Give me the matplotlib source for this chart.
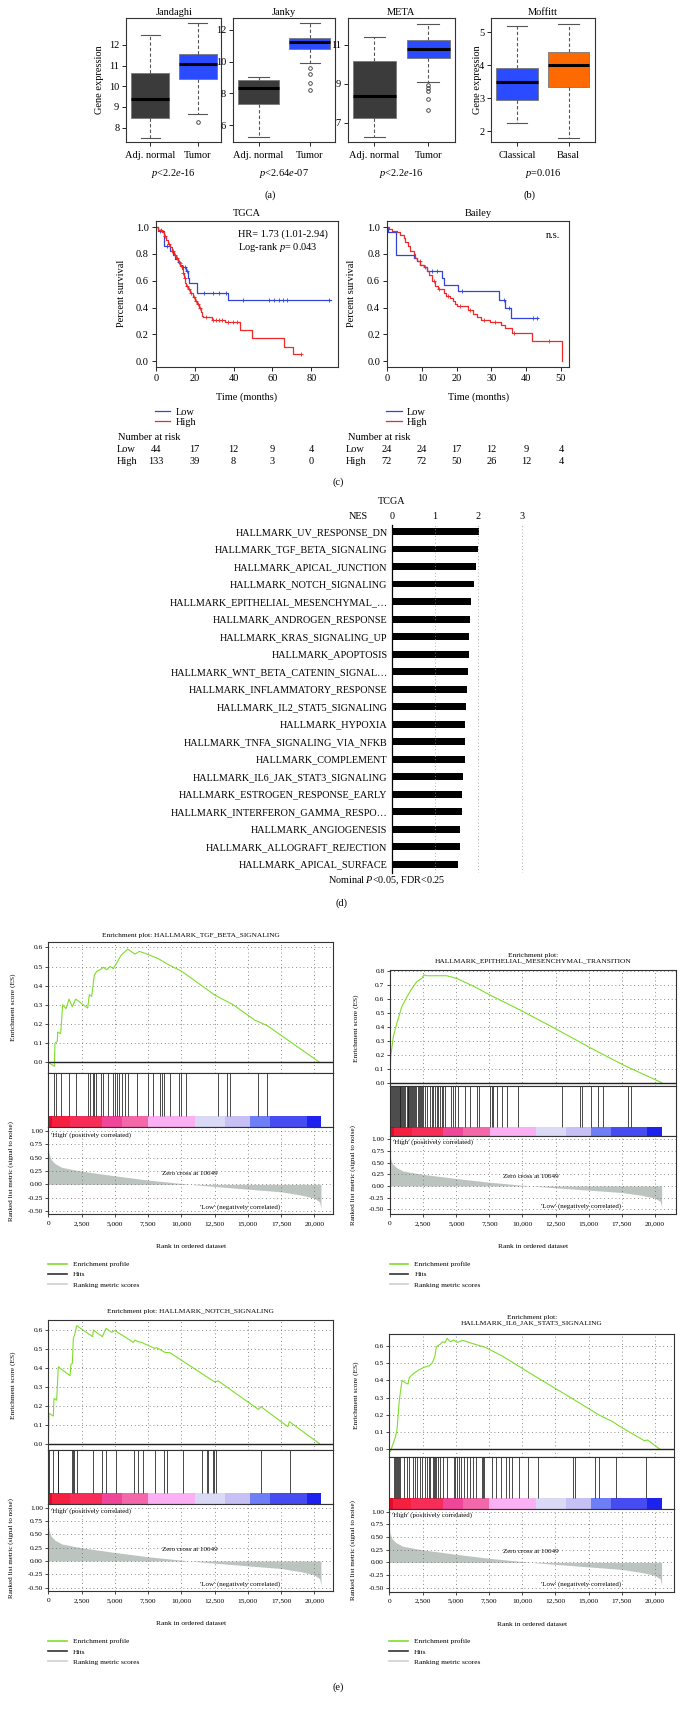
import numpy as np
import matplotlib.pyplot as plt
import matplotlib.transforms as mtransforms
from matplotlib.lines import Line2D

W, H = 683, 1710
plt.rcParams['font.family'] = ['Liberation Serif', 'DejaVu Serif']
plt.rcParams['mathtext.fontset'] = 'custom'
plt.rcParams['mathtext.rm'] = 'Liberation Serif'
plt.rcParams['mathtext.it'] = 'Liberation Serif:italic'

# ---------------- data: (a)/(b) box plots ----------------
box_datasets = ['Jandaghi', 'Janky', 'META', 'Moffitt']
box_groups = [['Adj. normal', 'Tumor'], ['Adj. normal', 'Tumor'],
              ['Adj. normal', 'Tumor'], ['Classical', 'Basal']]
box_pvals = ['$p$<2.2$e$-16', '$p$<2.64$e$-07', '$p$<2.2$e$-16', '$p$=0.016']
# whisker low, q1, median, q3, whisker high
box_stats = [
    [[7.52, 8.45, 9.39, 10.66, 12.48], [8.68, 10.34, 11.06, 11.55, 13.05]],
    [[5.24, 7.33, 8.36, 8.84, 9.05], [9.89, 10.80, 11.23, 11.50, 12.40]],
    [[6.24, 7.22, 8.36, 10.16, 11.39], [9.08, 10.31, 10.81, 11.27, 12.10]],
    [[2.25, 2.96, 3.50, 3.92, 5.21], [1.80, 3.35, 4.00, 4.41, 5.27]],
]
box_fliers = [[[], [8.27]], [[], [9.57, 9.22, 8.67, 8.21]],
              [[], [8.94, 8.77, 8.65, 8.22, 7.66]], [[], []]]
box_colors = [['#3b3b3b', '#2a4bff'], ['#3b3b3b', '#2a4bff'],
              ['#3b3b3b', '#2a4bff'], ['#2a4bff', '#ff6a00']]
box_ylims = [(7.32, 13.29), (4.97, 12.71), (6.02, 12.37), (1.68, 5.43)]
box_yticks = [[8, 9, 10, 11, 12], [6, 8, 10, 12], [7, 9, 11], [2, 3, 4, 5]]

# ---------------- data: (c) Kaplan-Meier ----------------
tcga_low_t = [0, 1.4, 4.5, 7.4, 9.1, 10.0, 11.3, 12.5, 13.4, 15.5, 16.5, 17.2, 21.1, 37.4, 90]
tcga_low_s = [1.0, 0.97, 0.86, 0.82, 0.79, 0.76, 0.74, 0.72, 0.70, 0.67, 0.62, 0.58, 0.51, 0.46, 0.46]
tcga_low_cens = [2, 6, 9, 12, 14, 15, 16, 24.9, 29.4, 32.7, 36, 44.9, 58.2, 61, 63.3, 65.5, 67.5, 89.2]
tcga_high_t = [0, 1.4, 3.1, 4.5, 5.2, 6.5, 7.4, 8.2, 9.4, 10.3, 11.3, 12.0, 12.7, 13.4, 13.9, 14.6,
               15.1, 15.6, 16.5, 17.7, 19.4, 20.3, 21.1, 22.3, 23.3, 24.0, 24.5, 28.8, 35.7, 43.5,
               49.4, 66.0, 70.4, 74.8]
tcga_high_s = [1.0, 0.98, 0.96, 0.93, 0.90, 0.87, 0.85, 0.82, 0.79, 0.77, 0.75, 0.73, 0.71, 0.69,
               0.66, 0.62, 0.58, 0.56, 0.54, 0.51, 0.48, 0.45, 0.43, 0.40, 0.37, 0.34, 0.33, 0.31,
               0.29, 0.23, 0.17, 0.11, 0.055, 0.055]
tcga_high_cens = [2.5, 5, 7, 8.5, 10, 11, 12.5, 14, 15, 16, 17, 18, 19.5, 20.5, 21.5, 23, 26, 29.5,
                  31, 32.5, 34, 37, 39.5, 42, 74.8]
bailey_low_t = [0, 0.2, 2.7, 7.7, 8.6, 9.6, 10.5, 11.5, 15.8, 16.3, 20.4, 32.1, 33.9, 35.5, 43.4]
bailey_low_s = [1.0, 0.96, 0.79, 0.77, 0.75, 0.72, 0.70, 0.67, 0.62, 0.57, 0.525, 0.46, 0.40, 0.32, 0.32]
bailey_low_cens = [13, 14.5, 21.5, 33.5, 35, 42, 43]
bailey_high_t = [0, 0.5, 1.5, 2.9, 3.8, 4.8, 5.3, 6.0, 6.7, 7.7, 8.1, 8.6, 9.6, 10.5, 11.5, 12.2,
                 12.9, 13.9, 14.6, 16.4, 17.0, 18.0, 19.0, 19.6, 20.2, 23.3, 24.6, 25.8, 27.1, 29.6,
                 32.7, 33.9, 35.9, 41.7, 50.2]
bailey_high_s = [1.0, 0.985, 0.97, 0.96, 0.94, 0.92, 0.89, 0.86, 0.82, 0.80, 0.77, 0.75, 0.72, 0.70,
                 0.67, 0.64, 0.60, 0.56, 0.54, 0.51, 0.49, 0.47, 0.45, 0.43, 0.41, 0.38, 0.355, 0.33,
                 0.31, 0.29, 0.27, 0.25, 0.21, 0.155, 0.0]
bailey_high_cens = [9.5, 11, 13.5, 15, 17.5, 21, 24, 28, 31, 36.5, 46.5]
tcga_risk_t = [0, 20, 40, 60, 80]
tcga_risk_low = [44, 17, 12, 9, 4]
tcga_risk_high = [133, 39, 8, 3, 0]
bailey_risk_t = [0, 10, 20, 30, 40, 50]
bailey_risk_low = [24, 24, 17, 12, 9, 4]
bailey_risk_high = [72, 72, 50, 26, 12, 4]

# ---------------- data: (d) NES bars ----------------
nes_terms = ['HALLMARK_UV_RESPONSE_DN', 'HALLMARK_TGF_BETA_SIGNALING', 'HALLMARK_APICAL_JUNCTION',
             'HALLMARK_NOTCH_SIGNALING', 'HALLMARK_EPITHELIAL_MESENCHYMAL_\u2026',
             'HALLMARK_ANDROGEN_RESPONSE', 'HALLMARK_KRAS_SIGNALING_UP', 'HALLMARK_APOPTOSIS',
             'HALLMARK_WNT_BETA_CATENIN_SIGNAL\u2026', 'HALLMARK_INFLAMMATORY_RESPONSE',
             'HALLMARK_IL2_STAT5_SIGNALING', 'HALLMARK_HYPOXIA', 'HALLMARK_TNFA_SIGNALING_VIA_NFKB',
             'HALLMARK_COMPLEMENT', 'HALLMARK_IL6_JAK_STAT3_SIGNALING',
             'HALLMARK_ESTROGEN_RESPONSE_EARLY', 'HALLMARK_INTERFERON_GAMMA_RESPO\u2026',
             'HALLMARK_ANGIOGENESIS', 'HALLMARK_ALLOGRAFT_REJECTION', 'HALLMARK_APICAL_SURFACE']
nes_values = [2.02, 2.00, 1.94, 1.89, 1.82, 1.81, 1.78, 1.78, 1.77, 1.74, 1.72, 1.70, 1.69,
              1.69, 1.64, 1.62, 1.62, 1.58, 1.57, 1.52]

# ---------------- data: (e) GSEA ----------------
tgf_es_rank = [0, 453, 503, 679, 704, 930, 1080, 1331, 1556, 1807, 2058, 2960, 3085, 3261, 3461,
               3637, 3887, 4138, 4389, 4639, 4890, 5140, 5466, 5968, 6519, 6845, 7271, 8274, 9026,
               10029, 12536, 13915, 15545, 16423, 20400]
tgf_es = [0.0, -0.021, 0.10, 0.11, 0.158, 0.15, 0.30, 0.28, 0.33, 0.29, 0.33, 0.283, 0.353, 0.344,
          0.454, 0.475, 0.483, 0.496, 0.483, 0.50, 0.489, 0.518, 0.558, 0.591, 0.565, 0.579, 0.569,
          0.541, 0.51, 0.475, 0.35, 0.30, 0.219, 0.193, 0.0]
tgf_hits = [453, 579, 930, 1556, 2058, 2960, 3135, 3386, 3461, 3562, 3962, 4138, 4464, 4890, 5015,
            5140, 5316, 5567, 5767, 5968, 6644, 7521, 7897, 8399, 8574, 8724, 9151, 9852, 9977,
            10353, 12735, 13412, 13663, 15792, 16419]
emt_es_rank = [0, 50, 252, 503, 880, 1258, 1635, 2012, 2390, 2566, 2767, 4277, 5031, 6290, 7547,
               10063, 12579, 15094, 17610, 20503]
emt_es = [0.0, 0.186, 0.33, 0.42, 0.54, 0.61, 0.67, 0.72, 0.745, 0.77, 0.764, 0.764, 0.745, 0.69,
          0.626, 0.507, 0.381, 0.25, 0.126, 0.0]
emt_hits = [20, 90, 160, 230, 300, 370, 440, 510, 580, 650, 720, 790, 860, 930, 1000, 1070, 1140,
            1258, 1330, 1384, 1460, 1509, 1600, 1680, 1760, 1840, 1920, 2000, 2080, 2160, 2240,
            2320, 2390, 2516, 2641, 2767, 3019, 3145, 3270, 3396, 3522, 3648, 3773, 3899, 4025,
            4151, 4603, 4729, 4905, 5157, 5660, 6038, 6541, 6692, 7547, 7673, 7799, 8050, 8428,
            8805, 9686, 12956, 14340, 14516, 15145, 15723, 16101, 17988, 18164]
notch_es_rank = [0, 50, 378, 428, 629, 754, 1632, 1707, 1807, 1883, 2008, 2133, 3336, 3386, 4063,
                 4339, 4765, 5015, 6394, 6519, 6770, 7020, 7271, 8023, 8148, 8775, 9151, 12486,
                 12786, 15795, 15996, 18002, 18128, 20384]
notch_es = [0.0, 0.16, 0.146, 0.239, 0.23, 0.406, 0.359, 0.419, 0.424, 0.556, 0.582, 0.623, 0.565,
            0.60, 0.565, 0.609, 0.588, 0.597, 0.535, 0.547, 0.538, 0.535, 0.526, 0.503, 0.507,
            0.482, 0.48, 0.327, 0.331, 0.181, 0.195, 0.09, 0.116, 0.0]
notch_hits = [50, 378, 704, 754, 1807, 1883, 1933, 2184, 3386, 4063, 4314, 5065, 6469, 6770, 7146,
              8023, 8724, 8900, 10153, 11531, 11907, 12033, 12409, 12485, 12585, 15995, 18176]
il6_es_rank = [0, 75, 252, 453, 578, 755, 956, 1208, 1409, 1510, 1837, 2214, 2591, 2969, 3220,
               3421, 3547, 3849, 4025, 4176, 4352, 4604, 4856, 5107, 5535, 6239, 7245, 8503,
               11019, 13535, 15799, 16806, 17309, 19196, 19447, 20378]
il6_es = [-0.004, -0.014, 0.025, 0.07, 0.112, 0.286, 0.40, 0.387, 0.379, 0.418, 0.441, 0.461,
          0.476, 0.484, 0.50, 0.538, 0.596, 0.612, 0.625, 0.62, 0.644, 0.625, 0.635, 0.621, 0.633,
          0.615, 0.592, 0.542, 0.422, 0.306, 0.199, 0.161, 0.135, 0.05, 0.054, 0.0]
il6_hits = [327, 402, 478, 553, 629, 704, 780, 1082, 1333, 1510, 1761, 1912, 2088, 2340, 2465,
            2667, 2843, 2969, 3094, 3270, 3346, 3421, 3497, 3673, 3849, 4025, 4352, 4855, 4981,
            5107, 5283, 5434, 5610, 5862, 6113, 6289, 6491, 6994, 7069, 7145, 7749, 8000, 8377,
            8805, 9006, 9258, 9761, 10466, 11220, 13837, 13988, 15497, 15799, 17057, 19321]
metric_rank = [0, 50, 200, 500, 1000, 2000, 3000, 5000, 7500, 10649, 12500, 15000, 17500, 19000,
               20000, 20400, 20500]
metric_vals = [0.70, 0.58, 0.47, 0.39, 0.32, 0.27, 0.23, 0.16, 0.08, 0.0, -0.04, -0.09, -0.14,
               -0.20, -0.26, -0.33, -0.45]
zero_cross = 10649
cbar_edges = [0, 300, 1630, 4015, 5520, 7520, 11030, 13290, 15165, 16670, 19420, 20500]
cbar_colors = ['#e10d28', '#f5203f', '#f72d58', '#f0469a', '#f468aa', '#fbb0f4', '#dadaf7',
               '#c6c0f4', '#6e7ef6', '#474cf2', '#1e22ef']
rank_ticks = [0, 2500, 5000, 7500, 10000, 12500, 15000, 17500, 20000]

fig = plt.figure(figsize=(W / 100, H / 100), dpi=100)


def px_axes(x0, y0, x1, y1):
    return fig.add_axes([x0 / W, 1 - y1 / H, (x1 - x0) / W, (y1 - y0) / H])


def px_text(x, y, s, **kw):
    kw.setdefault('ha', 'center')
    kw.setdefault('va', 'center')
    fig.text(x / W, 1 - y / H, s, **kw)


FS = 7.5
FG = 5.3

# ---------------- (a) and (b) ----------------
box_px = [(126.3, 221.3), (233.0, 335.4), (347.6, 455.1), (491.3, 594.5)]
for i, name in enumerate(box_datasets):
    ax = px_axes(box_px[i][0], 18.3, box_px[i][1], 141.7)
    stats = []
    for j in range(2):
        lo, q1, med, q3, hi = box_stats[i][j]
        stats.append(dict(whislo=lo, q1=q1, med=med, q3=q3, whishi=hi,
                          fliers=box_fliers[i][j], label=box_groups[i][j]))
    bp = ax.bxp(stats, positions=[1, 2], widths=0.8, patch_artist=True,
                whiskerprops=dict(linestyle=(0, (3, 2)), color='#555', lw=0.8),
                capprops=dict(color='#555', lw=0.8),
                medianprops=dict(color='black', lw=2.2),
                flierprops=dict(marker='o', markersize=2.6, mfc='none', mec='#333', mew=0.6),
                boxprops=dict(edgecolor='#777', lw=0.6))
    for patch, c in zip(bp['boxes'], box_colors[i]):
        patch.set_facecolor(c)
    ax.set_xlim(0.5, 2.5)
    ax.set_ylim(*box_ylims[i])
    ax.set_yticks(box_yticks[i])
    ax.tick_params(labelsize=FS, length=3, width=0.6, pad=2)
    ax.tick_params(axis='x', pad=4)
    for sp in ax.spines.values():
        sp.set_color('#333')
        sp.set_linewidth(0.8)
    ax.set_title(name, fontsize=FS, pad=2.5)
    cx = (box_px[i][0] + box_px[i][1]) / 2
    px_text(cx, 173, box_pvals[i], fontsize=FS)
px_text(99.3, 80, 'Gene expression', rotation=90, fontsize=FS)
px_text(477, 80, 'Gene expression', rotation=90, fontsize=FS)
px_text(270, 195, '(a)', fontsize=FS)
px_text(529, 195, '(b)', fontsize=FS)

# ---------------- (c) Kaplan-Meier ----------------
km_sets = [
    dict(title='TGCA', box=(155.7, 337.7), xlim=93.5, xt=tcga_risk_t,
         low=(tcga_low_t, tcga_low_s, tcga_low_cens), high=(tcga_high_t, tcga_high_s, tcga_high_cens),
         rl=tcga_risk_low, rh=tcga_risk_high, ylab=121, lab=116.7, nar=117.6),
    dict(title='Bailey', box=(387.0, 569.3), xlim=52.4, xt=bailey_risk_t,
         low=(bailey_low_t, bailey_low_s, bailey_low_cens),
         high=(bailey_high_t, bailey_high_s, bailey_high_cens),
         rl=bailey_risk_low, rh=bailey_risk_high, ylab=352, lab=346, nar=348.4),
]
for k in km_sets:
    ax = px_axes(k['box'][0], 221.0, k['box'][1], 366.7)
    handles = []
    for key, col, name in [('low', '#3344dd', 'Low'), ('high', '#ee2a2a', 'High')]:
        t, s, cens = k[key]
        ln, = ax.step(t, s, where='post', color=col, lw=0.9, label=name)
        idx = np.searchsorted(t, cens, side='right') - 1
        ax.plot(cens, np.array(s)[idx], '+', color=col, ms=3.5, mew=0.6)
        handles.append(ln)
    ax.set_xlim(0, k['xlim'])
    ax.set_ylim(-0.04, 1.045)
    ax.set_xticks(k['xt'])
    ax.set_yticks([0, 0.2, 0.4, 0.6, 0.8, 1.0])
    ax.set_yticklabels(['0.0', '0.2', '0.4', '0.6', '0.8', '1.0'])
    ax.tick_params(labelsize=FS, length=3, width=0.6, pad=2)
    for sp in ax.spines.values():
        sp.set_color('#333')
        sp.set_linewidth(0.8)
    cx = (k['box'][0] + k['box'][1]) / 2
    px_text(cx, 214, k['title'], fontsize=FS)
    px_text(cx, 396.7, 'Time (months)', fontsize=FS)
    px_text(k['ylab'], 293.8, 'Percent survival', rotation=90, fontsize=FS)
    ax.legend(handles, ['Low', 'High'], loc='upper left', fontsize=FS, frameon=False,
              bbox_to_anchor=((k['box'][0] - 1) / W, 1 - 407.5 / H), bbox_transform=fig.transFigure,
              borderpad=0, borderaxespad=0, handlelength=1.5, handletextpad=0.5, labelspacing=0.1)
    px_text(k['nar'], 438, 'Number at risk', fontsize=FS, ha='left')
    px_text(k['lab'], 449.3, 'Low', fontsize=FS, ha='left')
    px_text(k['lab'], 461, 'High', fontsize=FS, ha='left')
    trans = mtransforms.blended_transform_factory(ax.transData, fig.transFigure)
    for tt, nl, nh in zip(k['xt'], k['rl'], k['rh']):
        fig.text(tt, 1 - 449.3 / H, str(nl), transform=trans, fontsize=FS, ha='center', va='center')
        fig.text(tt, 1 - 461 / H, str(nh), transform=trans, fontsize=FS, ha='center', va='center')
fig.text(237.8 / W, 1 - 234 / H, 'HR= 1.73 (1.01-2.94)', fontsize=FS, va='center')
fig.text(237.8 / W, 1 - 247.7 / H, 'Log-rank $p$= 0.043', fontsize=FS, va='center')
px_text(560.5, 235, 'n.s.', fontsize=FS, ha='right')
px_text(338, 482, '(c)', fontsize=FS)

# ---------------- (d) NES bars ----------------
ax = px_axes(391.7, 525, 530, 873)
ax.barh(range(len(nes_terms)), nes_values, height=0.38, color='black')
ax.set_xlim(0, 3.19)
ax.set_ylim(19.5, -0.38)
ax.set_yticks(range(len(nes_terms)))
ax.set_yticklabels(nes_terms, fontsize=7.3)
ax.xaxis.tick_top()
ax.set_xticks([0, 1, 2, 3])
ax.tick_params(axis='x', labelsize=7.3, length=0, pad=3)
ax.tick_params(axis='y', length=0, pad=3)
ax.grid(axis='x', linestyle=(0, (1, 3)), color='#999', lw=0.6)
for side in ['top', 'right', 'bottom']:
    ax.spines[side].set_visible(False)
ax.spines['left'].set_linewidth(0.9)
px_text(391.7, 501.7, 'TCGA', fontsize=7.3)
px_text(358, 516.7, 'NES', fontsize=7.3)
px_text(387, 880.7, 'Nominal $P$<0.05, FDR<0.25', fontsize=7.3)
px_text(341, 903.3, '(d)', fontsize=FS)

# ---------------- (e) GSEA enrichment plots ----------------
gsea_sets = [
    dict(title='Enrichment plot: HALLMARK_TGF_BETA_SIGNALING', ty=935,
         geo=(48.3, 333.3, 942, 1073, 1127.3, 1214), cb=0.214, xmax=21429,
         es=(tgf_es_rank, tgf_es, tgf_hits), esy=(-0.056, 0.628), est=np.arange(0, 0.65, 0.1),
         ry=(-0.556, 1.07), ylx=13.3, rlx=11.5, lg=1266),
    dict(title='Enrichment plot:\nHALLMARK_EPITHELIAL_MESENCHYMAL_TRANSITION', ty=958,
         geo=(390, 676, 970, 1086, 1136, 1214), cb=0.186, xmax=21585,
         es=(emt_es_rank, emt_es, emt_hits), esy=(-0.024, 0.805), est=np.arange(0, 0.85, 0.1),
         ry=(-0.6, 1.07), ylx=355.7, rlx=352.7, lg=1266),
    dict(title='Enrichment plot: HALLMARK_NOTCH_SIGNALING', ty=1311.7,
         geo=(48.3, 333.3, 1320, 1450.3, 1504.3, 1591), cb=0.204, xmax=21429,
         es=(notch_es_rank, notch_es, notch_hits), esy=(-0.035, 0.653), est=np.arange(0, 0.65, 0.1),
         ry=(-0.56, 1.06), ylx=13.3, rlx=11.5, lg=1643.3),
    dict(title='Enrichment plot:\nHALLMARK_IL6_JAK_STAT3_SIGNALING', ty=1320.3,
         geo=(389.3, 674.3, 1334, 1456.7, 1509, 1591.7), cb=0.205, xmax=21457,
         es=(il6_es_rank, il6_es, il6_hits), esy=(-0.043, 0.67), est=np.arange(0, 0.65, 0.1),
         ry=(-0.58, 1.054), ylx=355.7, rlx=352.7, lg=1643.3),
]
green = '#7fdd2a'
for g in gsea_sets:
    x0, x1, y_es, y_hit, y_rank, y_bot = g['geo']
    es_rank, es_vals, hits = g['es']
    cx = (x0 + x1) / 2
    px_text(cx, g['ty'], g['title'], fontsize=FG, linespacing=1.1)

    ax_es = px_axes(x0, y_es, x1, y_hit)
    ax_es.plot(es_rank, es_vals, color=green, lw=0.8)
    ax_es.axhline(0, color='#222', lw=1.0)
    ax_es.set_xlim(0, g['xmax'])
    ax_es.set_ylim(*g['esy'])
    ax_es.set_xticks(rank_ticks)
    ax_es.set_yticks(g['est'])
    ax_es.set_yticklabels(['%.1f' % v for v in g['est']])
    ax_es.tick_params(axis='x', length=0, labelbottom=False)
    ax_es.tick_params(axis='y', labelsize=FG, length=2, width=0.5, pad=2)
    ax_es.grid(True, linestyle=(0, (1, 3.5)), color='#666', lw=0.6)
    px_text(g['ylx'], (y_es + y_hit) / 2, 'Enrichment score (ES)', rotation=90, fontsize=FG)

    ax_h = px_axes(x0, y_hit, x1, y_rank)
    ax_h.vlines(hits, g['cb'], 1, color='#1a1a1a', lw=0.7, alpha=0.8)
    ax_h.broken_barh(list(zip(cbar_edges[:-1], np.diff(cbar_edges))), (0, g['cb']),
                     facecolors=cbar_colors, lw=0)
    ax_h.set_xlim(0, g['xmax'])
    ax_h.set_ylim(0, 1)
    ax_h.set_xticks([])
    ax_h.set_yticks([])

    ax_r = px_axes(x0, y_rank, x1, y_bot)
    ax_r.fill_between(metric_rank, metric_vals, 0, color='#bcc4c0', lw=0)
    ax_r.set_xlim(0, g['xmax'])
    ax_r.set_ylim(*g['ry'])
    ax_r.set_xticks(rank_ticks)
    ax_r.set_xticklabels(['{:,}'.format(v) for v in rank_ticks])
    ax_r.set_yticks([-0.5, -0.25, 0, 0.25, 0.5, 0.75, 1.0])
    ax_r.set_yticklabels(['-0.50', '-0.25', '0.00', '0.25', '0.50', '0.75', '1.00'])
    ax_r.tick_params(labelsize=FG, length=2, width=0.5, pad=2)
    ax_r.tick_params(axis='x', pad=3)
    ax_r.grid(True, linestyle=(0, (1, 3.5)), color='#666', lw=0.6)
    ax_r.text(200, 0.93, "'High' (positively correlated)", fontsize=FG - 0.3, va='center')
    ax_r.text(zero_cross, 0.21, 'Zero cross at %d' % zero_cross, fontsize=FG - 0.3,
              ha='center', va='center')
    ax_r.text(14400, -0.43, "'Low' (negatively correlated)", fontsize=FG - 0.3,
              ha='center', va='center')
    px_text(g['rlx'], (y_rank + y_bot) / 2, 'Ranked list metric (signal to noise)',
            rotation=90, fontsize=FG - 0.2)
    px_text(cx, y_bot + 32.7, 'Rank in ordered dataset', fontsize=FG)
    for a in (ax_es, ax_h, ax_r):
        for sp in a.spines.values():
            sp.set_color('#333')
            sp.set_linewidth(0.8)
    lh = [Line2D([], [], color=green, lw=1.2), Line2D([], [], color='#333', lw=1.2),
          Line2D([], [], color='#cfcfcf', lw=1.2)]
    ax_r.legend(lh, ['Enrichment profile', 'Hits', 'Ranking metric scores'], loc='upper left',
                fontsize=FG, frameon=False, bbox_to_anchor=(x0 / W, 1 - (g['lg'] - 5) / H),
                bbox_transform=fig.transFigure, borderpad=0, borderaxespad=0,
                handlelength=2.5, handletextpad=0.8, labelspacing=0.55)
px_text(338, 1687, '(e)', fontsize=FS)

fig.savefig('out.png', dpi=100)
